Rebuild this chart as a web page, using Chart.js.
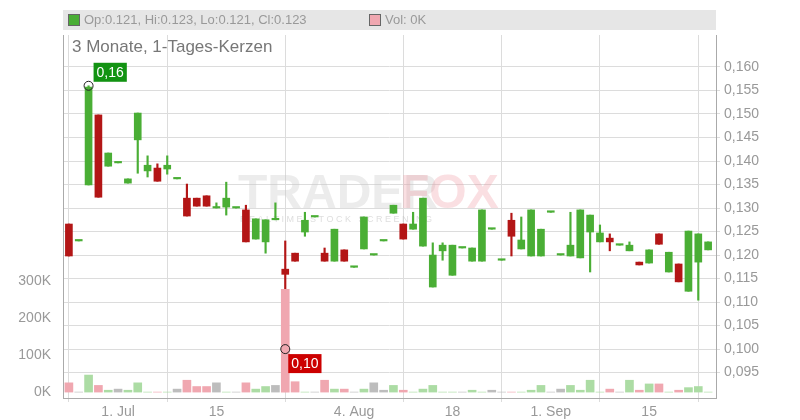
<!DOCTYPE html>
<html><head><meta charset="utf-8">
<script src="https://cdn.jsdelivr.net/npm/chart.js@4"></script>
<style>
body{margin:0;background:#fff;font-family:"Liberation Sans",Arial,sans-serif}
#wrap{position:relative;width:800px;height:420px}
#hdr{position:absolute;left:63px;top:10px;width:653px;height:20px;background:#e6e6e6}
.sq{position:absolute;top:4px;width:10px;height:10px;border:1px solid #666}
.lt{position:absolute;top:2px;font-size:13px;color:#999}
#sub{position:absolute;left:72px;top:37px;font-size:17px;color:#777}
canvas{position:absolute;left:0;top:0}
</style></head><body>
<div id="wrap"><canvas id="c" width="800" height="420"></canvas>
<div id="hdr"><div class="sq" style="left:5px;background:#4aae35"></div><div class="lt" style="left:21px">Op:0.121, Hi:0.123, Lo:0.121, Cl:0.123</div>
<div class="sq" style="left:306px;background:#f0a7b0"></div><div class="lt" style="left:322px">Vol: 0K</div></div>
<div id="sub">3 Monate, 1-Tages-Kerzen</div></div>
<script>
const opens=[0.1266,0.1230,0.1349,0.1498,0.1389,0.1396,0.1353,0.1445,0.1379,0.1385,0.1383,0.1362,0.1321,0.1321,0.1326,0.1300,0.1302,0.1300,0.1296,0.1234,0.1228,0.1275,0.1170,0.1204,0.1249,0.1281,0.1204,0.1187,0.1211,0.1174,0.1213,0.1200,0.1230,0.1289,0.1266,0.1255,0.1219,0.1132,0.1209,0.1157,0.1215,0.1187,0.1187,0.1255,0.1189,0.1274,0.1213,0.1198,0.1198,0.1291,0.1200,0.1198,0.1194,0.1249,0.1228,0.1236,0.1221,0.1209,0.1185,0.1183,0.1245,0.1164,0.1181,0.1123,0.1185,0.1211];
const closes=[0.1198,0.1230,0.1557,0.1323,0.1417,0.1396,0.1362,0.1502,0.1391,0.1357,0.1391,0.1362,0.1283,0.1304,0.1304,0.1300,0.1321,0.1300,0.1228,0.1277,0.1275,0.1275,0.1159,0.1187,0.1274,0.1281,0.1187,0.1255,0.1187,0.1174,0.1281,0.1200,0.1230,0.1306,0.1234,0.1266,0.1321,0.1200,0.1221,0.1221,0.1215,0.1215,0.1296,0.1255,0.1189,0.1240,0.1232,0.1296,0.1255,0.1291,0.1200,0.1221,0.1296,0.1285,0.1247,0.1228,0.1221,0.1221,0.1179,0.1211,0.1223,0.1206,0.1143,0.1251,0.1245,0.1228];
const highs=[0.1266,0.1230,0.1560,0.1498,0.1417,0.1396,0.1362,0.1502,0.1411,0.1394,0.1411,0.1362,0.1351,0.1321,0.1326,0.1311,0.1355,0.1300,0.1306,0.1277,0.1275,0.1311,0.1230,0.1204,0.1291,0.1281,0.1215,0.1255,0.1211,0.1174,0.1281,0.1200,0.1230,0.1306,0.1266,0.1291,0.1321,0.1226,0.1226,0.1221,0.1215,0.1215,0.1296,0.1255,0.1189,0.1289,0.1281,0.1296,0.1255,0.1291,0.1200,0.1291,0.1296,0.1285,0.1264,0.1245,0.1221,0.1228,0.1185,0.1211,0.1245,0.1206,0.1181,0.1251,0.1245,0.1228];
const lows=[0.1198,0.1230,0.1349,0.1323,0.1389,0.1396,0.1353,0.1374,0.1366,0.1357,0.1372,0.1362,0.1283,0.1304,0.1304,0.1300,0.1285,0.1300,0.1228,0.1234,0.1204,0.1275,0.1000,0.1187,0.1240,0.1281,0.1187,0.1187,0.1187,0.1174,0.1213,0.1200,0.1230,0.1289,0.1234,0.1255,0.1219,0.1132,0.1189,0.1157,0.1215,0.1187,0.1187,0.1255,0.1189,0.1198,0.1213,0.1198,0.1198,0.1291,0.1200,0.1198,0.1194,0.1164,0.1228,0.1209,0.1221,0.1209,0.1179,0.1183,0.1223,0.1164,0.1143,0.1123,0.1104,0.1211];
const volumes=[25000,0,46000,18000,5000,8000,5000,25000,0,0,0,8000,32000,15000,15000,25000,0,0,25000,8000,15000,18000,278000,28000,0,0,32000,8000,8000,0,8000,25000,5000,18000,5000,0,8000,18000,0,0,0,5000,0,5000,0,0,0,5000,18000,0,8000,18000,5000,32000,0,8000,0,32000,5000,22000,22000,0,5000,12000,15000,0];
const tickIdx=[5,15,29,39,49,59];
const tickLabels=["1. Jul","15","4. Aug","18","1. Sep","15"];
const priceTicks=[0.095,0.100,0.105,0.110,0.115,0.120,0.125,0.130,0.135,0.140,0.145,0.150,0.155,0.160];
const volTicks=[0,100000,200000,300000];

const G='#4aae35',R='#b31616';
const dir=opens.map((o,i)=>closes[i]>o?1:closes[i]<o?-1:0);
const cCol=dir.map(d=>d>=0?G:R);
const vCol=dir.map(d=>d>0?'#acdca4':d<0?'#f0a7b0':'#bdbdbd');
const idx=opens.map((_,i)=>i);
const marks={id:'marks',afterDatasetsDraw(ch){
  const c=ch.ctx,x=ch.scales.x,y=ch.scales.y;
  const draw=(i,v,txt,col,dx,dy)=>{
    const px=x.getPixelForValue(i),py=y.getPixelForValue(v);
    c.save();c.beginPath();c.arc(px,py,4.5,0,Math.PI*2);c.strokeStyle='#222';c.lineWidth=1;c.stroke();
    c.font='14px "Liberation Sans",Arial';const w=c.measureText(txt).width+6;
    c.fillStyle=col;c.fillRect(px+dx,py+dy,w,19);c.fillStyle='#fff';c.textBaseline='middle';c.fillText(txt,px+dx+3,py+dy+10);c.restore();};
  draw(2,highs[2],'0,16','#129312',5,-23);
  draw(22,lows[22],'0,10','#cc0000',3,5);
}};
const wm={id:'wm',beforeDatasetsDraw(ch){const c=ch.ctx;c.save();c.font='bold 48px "Liberation Sans",Arial';c.fillStyle='rgba(200,200,200,0.35)';c.fillText('TRADER',238,208);c.fillStyle='rgba(240,150,160,0.3)';c.fillText('FOX',400,208);c.font='9px "Liberation Sans"';c.fillStyle='rgba(190,190,190,0.5)';c.fillText('R E A L T I M E   S T O C K   S C R E E N I N G',240,222);c.restore();}};
new Chart(document.getElementById('c'),{
 data:{datasets:[
  {type:'bar',data:idx.map(i=>({x:i,y:volumes[i]})),yAxisID:'yv',backgroundColor:vCol,barThickness:8},
  {type:'bar',data:idx.map(i=>({x:i,y:[lows[i],highs[i]]})),yAxisID:'y',backgroundColor:cCol,barThickness:1.5,grouped:false},
  {type:'bar',data:idx.map(i=>({x:i,y:[opens[i],closes[i]]})),yAxisID:'y',backgroundColor:cCol,barThickness:7,minBarLength:1.5,grouped:false}
 ]},
 options:{responsive:false,animation:false,layout:{padding:{top:35,left:0,right:0,bottom:0}},
  plugins:{legend:{display:false},tooltip:{enabled:false}},
  scales:{
   x:{type:'linear',min:-0.6,max:65.8,offset:false,
      afterBuildTicks:s=>{s.ticks=tickIdx.map(v=>({value:v}));},
      afterFit:s=>{s.height=22;},
      ticks:{callback:(v)=>tickLabels[tickIdx.indexOf(v)]??'',color:'#999',font:{size:14},padding:2,maxRotation:0,autoSkip:false},
      grid:{color:'#dcdcdc',drawTicks:true,tickLength:4},border:{color:'#aaa'}},
   y:{position:'right',min:0.0896,max:0.1668,
      afterBuildTicks:s=>{s.ticks=priceTicks.map(v=>({value:v}));},
      afterFit:s=>{s.width=84;},
      ticks:{callback:v=>v.toFixed(3).replace('.',','),color:'#999',font:{size:14},padding:4},
      grid:{color:'#dcdcdc',tickLength:4},border:{color:'#aaa'}},
   yv:{position:'left',min:-16000,max:965000,
      afterBuildTicks:s=>{s.ticks=volTicks.map(v=>({value:v}));},
      afterFit:s=>{s.width=63;},
      ticks:{callback:v=>(v/1000)+'K',color:'#999',font:{size:14},padding:4},
      grid:{display:false},border:{color:'#aaa'}}
  }},
 plugins:[wm,marks]
});
</script></body></html>
